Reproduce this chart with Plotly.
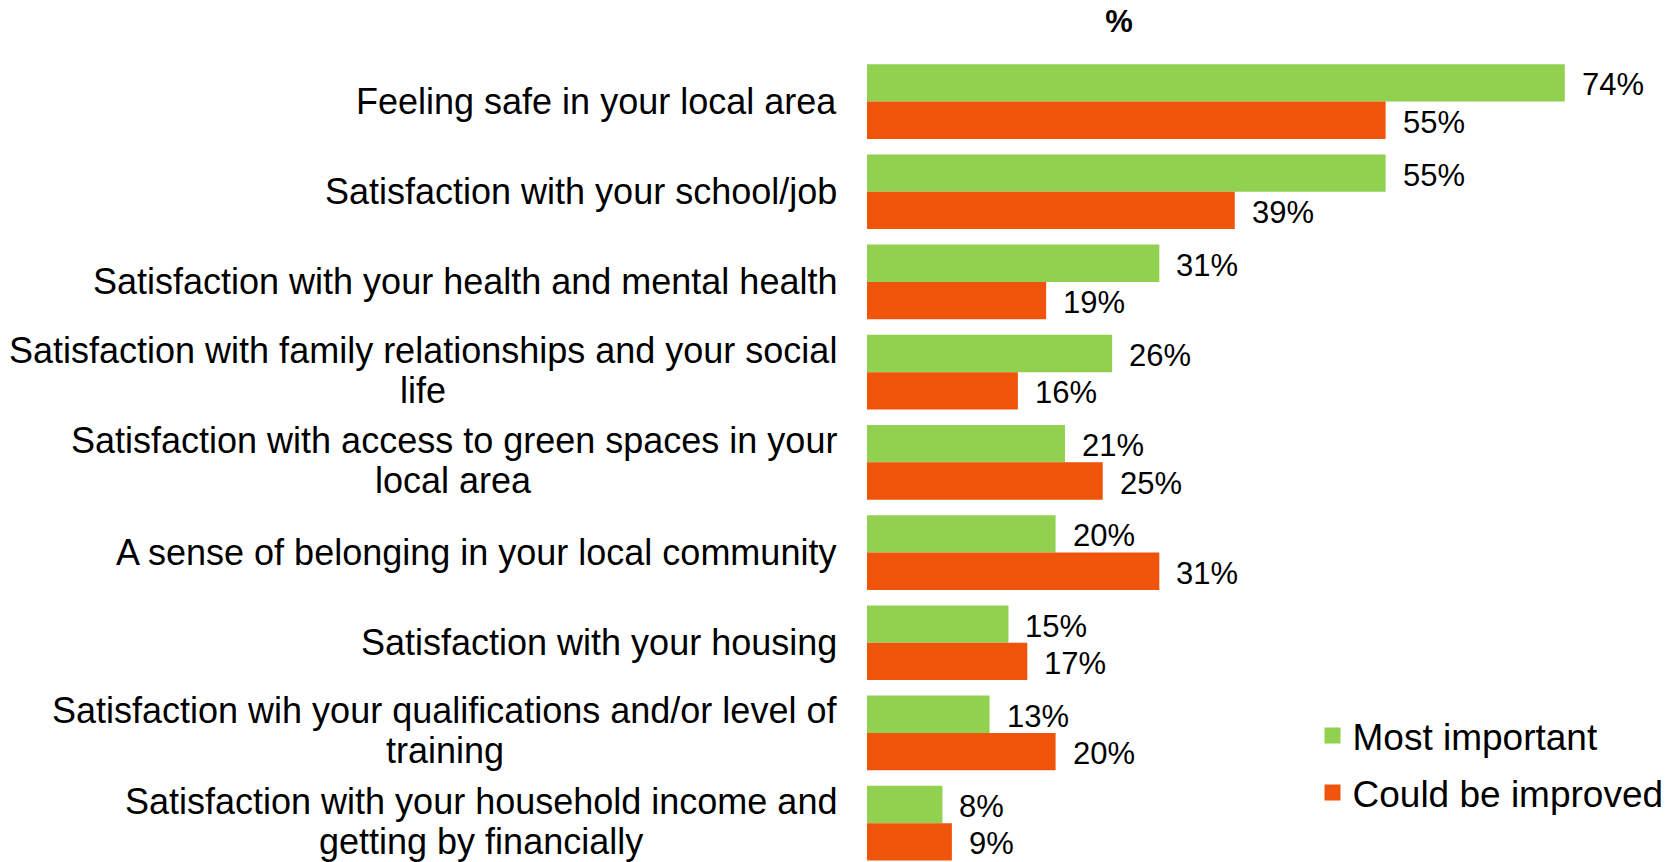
import plotly.graph_objects as go

# Wellbeing aspects, each label split into its display lines
categories = [
    ["Feeling safe in your local area"],
    ["Satisfaction with your school/job"],
    ["Satisfaction with your health and mental health"],
    ["Satisfaction with family relationships and your social", "life"],
    ["Satisfaction with access to green spaces in your", "local area"],
    ["A sense of belonging in your local community"],
    ["Satisfaction with your housing"],
    ["Satisfaction wih your qualifications and/or level of", "training"],
    ["Satisfaction with your household income and", "getting by financially"],
]
most_important = [74, 55, 31, 26, 21, 20, 15, 13, 8]
could_be_improved = [55, 39, 19, 16, 25, 31, 17, 20, 9]

series_names = ["Most important", "Could be improved"]
series_colors = ["#92D050", "#F0530A"]

FONT = "Liberation Sans, Arial, sans-serif"
W, H = 1677, 862
BARGAP = 0.172
LABEL_SIZE = 36
LABEL_GAP = 30        # px between label block and bars
LINE_STEP = 40        # px between the two lines of a wrapped label
WRAP_LIFT = 2         # small upward nudge of wrapped labels

# Arial / Liberation Sans advance widths (units per 1000 em)
ADV = {" ": 278, "/": 278, "A": 667, "F": 611, "S": 667,
       "a": 556, "b": 556, "c": 500, "d": 556, "e": 556, "f": 278, "g": 556,
       "h": 556, "i": 222, "j": 222, "k": 500, "l": 222, "m": 833, "n": 556,
       "o": 556, "p": 556, "q": 556, "r": 333, "s": 500, "t": 278, "u": 556,
       "v": 500, "w": 722, "x": 500, "y": 500, "z": 500}


def text_width(s, size):
    return sum(ADV.get(ch, 556) for ch in s) * size / 1000.0


positions = list(range(len(categories)))

fig = go.Figure()
for name, vals, color in zip(series_names, [most_important, could_be_improved], series_colors):
    fig.add_trace(go.Bar(
        x=vals, y=positions, orientation="h", name=name,
        marker=dict(color=color, line=dict(width=0)),
        showlegend=False, hoverinfo="skip",
    ))
    # square swatch for the legend
    fig.add_trace(go.Scatter(
        x=[None], y=[None], mode="markers", name=name, legendgroup=name,
        marker=dict(symbol="square", size=16, color=color),
    ))

annotations = []
# category labels: block right-aligned to the bars, lines centred within it
for i, lines in enumerate(categories):
    block_w = max(text_width(s, LABEL_SIZE) for s in lines)
    centre_shift = -LABEL_GAP - block_w / 2
    n = len(lines)
    lift = WRAP_LIFT if n > 1 else 0
    for k, s in enumerate(lines):
        annotations.append(dict(
            x=0, xref="paper", y=i, yref="y", xanchor="center", yanchor="middle",
            xshift=centre_shift, yshift=((n - 1) / 2 - k) * LINE_STEP + lift,
            text=s, showarrow=False,
            font=dict(family=FONT, size=LABEL_SIZE, color="#000000"),
        ))

# value labels beside each bar
half = (1 - BARGAP) / 4
for offset, vals in zip([-half, half], [most_important, could_be_improved]):
    for i, v in enumerate(vals):
        annotations.append(dict(
            x=v, xref="x", y=i + offset, yref="y", xanchor="left", yanchor="middle",
            xshift=15, yshift=-2, text=f"{v}%", showarrow=False,
            font=dict(family=FONT, size=31, color="#000000"),
        ))

fig.update_layout(
    width=W, height=H,
    margin=dict(l=867, r=0, t=56, b=0),
    paper_bgcolor="white", plot_bgcolor="white",
    barmode="group", bargap=BARGAP, bargroupgap=0,
    title=dict(text="<b>%</b>", x=1119 / W, xref="container", xanchor="center",
               y=1 - 21 / H, yref="container", yanchor="middle",
               font=dict(family=FONT, size=31, color="#000000")),
    xaxis=dict(range=[0, 85.9], visible=False, fixedrange=True),
    yaxis=dict(range=[8.431, -0.505], visible=False, fixedrange=True),
    legend=dict(x=0.55, y=0.195, xanchor="left", yanchor="top",
                font=dict(family=FONT, size=37, color="#000000"),
                bgcolor="rgba(0,0,0,0)", tracegroupgap=6, traceorder="grouped"),
    annotations=annotations,
    showlegend=True,
)

fig.write_html("out.html")
